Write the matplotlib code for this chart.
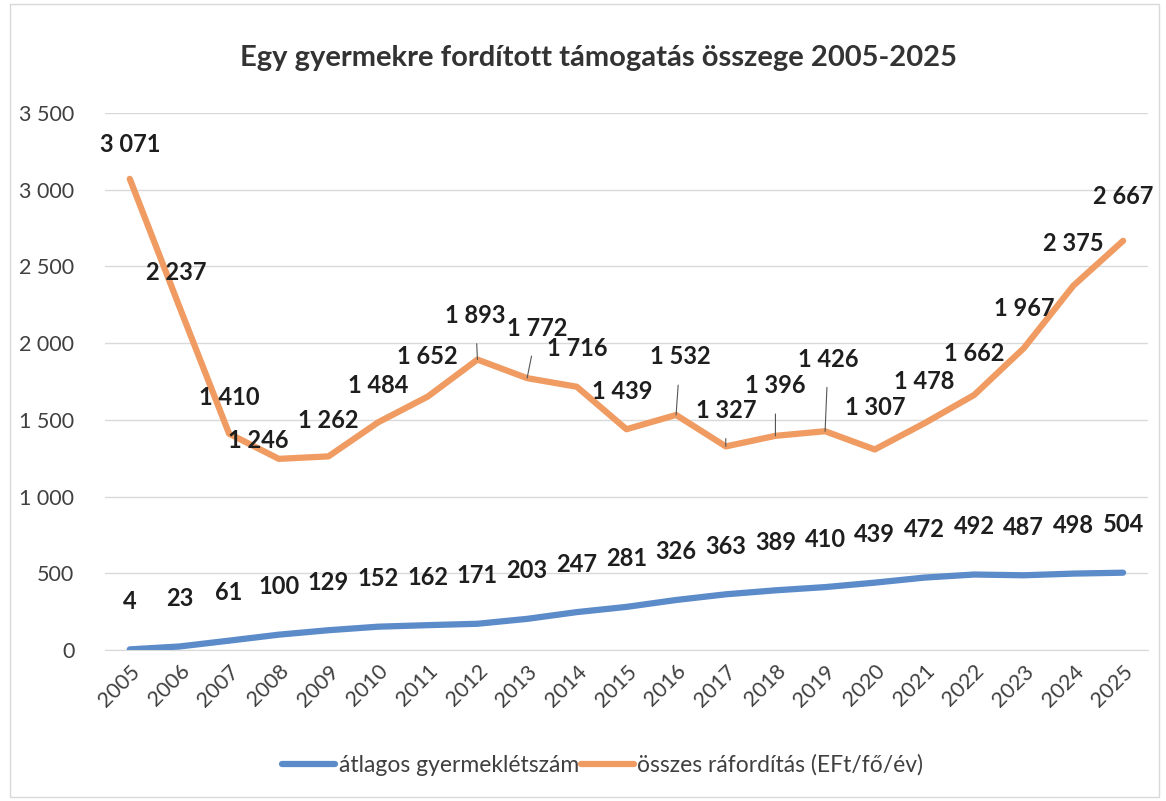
import matplotlib.pyplot as plt

plt.rcParams['font.family'] = ['Lato', 'DejaVu Sans']

# adatok
evek = [str(e) for e in range(2005, 2026)]
gyermekletszam = [4, 23, 61, 100, 129, 152, 162, 171, 203, 247, 281,
                  326, 363, 389, 410, 439, 472, 492, 487, 498, 504]
raforditas = [3071, 2237, 1410, 1246, 1262, 1484, 1652, 1893, 1772, 1716, 1439,
              1532, 1327, 1396, 1426, 1307, 1478, 1662, 1967, 2375, 2667]
y_ticks = [0, 500, 1000, 1500, 2000, 2500, 3000, 3500]

cim = 'Egy gyermekre fordított támogatás összege 2005-2025'
nev_kek = 'átlagos gyermeklétszám'
nev_narancs = 'összes ráfordítás (EFt/fő/év)'

kek = '#5b8bc8'
narancs = '#ef9b62'

# cimke eltolasok pixelben (dx, dy), es hogy van-e vezetovonal
narancs_eltolas = [(0, 34), (-3, 34), (0, 36), (-21, 18), (0, 36), (0, 37), (0, 40),
                   (-2, 44), (10, 50), (0, 38), (-4, 38), (4, 58), (0, 36), (0, 50),
                   (3, 72), (0, 42), (0, 42), (0, 42), (0, 40), (0, 42), (0, 44)]
vezetovonal = [False] * 21
for i in (7, 8, 11, 12, 13, 14):
    vezetovonal[i] = True


def fmt(v):
    return f'{v:,}'.replace(',', ' ')


fig = plt.figure(figsize=(11.66, 8.01), dpi=100)
ax = fig.add_axes([0.090, 0.1885, 0.8945, 0.6704])

x = list(range(len(evek)))
ax.plot(x, gyermekletszam, color=kek, lw=4.5, solid_capstyle='round', label=nev_kek, zorder=3)
ax.plot(x, raforditas, color=narancs, lw=4.5, solid_capstyle='round', label=nev_narancs, zorder=3)

for i, v in enumerate(gyermekletszam):
    ax.annotate(str(v), (i, v), xytext=(0, 48), textcoords='offset pixels',
                ha='center', va='center', fontsize=17, fontweight='bold', color='#1e1e1e')

for i, v in enumerate(raforditas):
    dx, dy = narancs_eltolas[i]
    if vezetovonal[i]:
        ax.annotate(fmt(v), (i, v), xytext=(dx, dy), textcoords='offset pixels',
                    ha='center', va='center', fontsize=17, fontweight='bold', color='#1e1e1e',
                    arrowprops=dict(arrowstyle='-', color='#555555', lw=0.8,
                                    shrinkA=10, shrinkB=0), zorder=4)
    else:
        ax.annotate(fmt(v), (i, v), xytext=(dx, dy), textcoords='offset pixels',
                    ha='center', va='center', fontsize=17, fontweight='bold', color='#1e1e1e',
                    zorder=4)

ax.set_xlim(-0.5, len(evek) - 0.5)
ax.set_ylim(0, 3500)
ax.set_yticks(y_ticks)
ax.set_yticklabels([fmt(t) for t in y_ticks], fontsize=15.5, color='#404040')
ax.set_xticks(x)
ax.set_xticklabels(evek, rotation=45, ha='right', rotation_mode='anchor',
                   fontsize=15.5, color='#404040')
ax.tick_params(axis='y', length=0, pad=22)
ax.tick_params(axis='x', length=0, pad=8)
ax.grid(axis='y', color='#d9d9d9', lw=1)
ax.set_axisbelow(True)
for s in ['top', 'right', 'left']:
    ax.spines[s].set_visible(False)
ax.spines['bottom'].set_color('#d9d9d9')

fig.text(0.513, 0.927, cim, ha='center', va='center', fontsize=21,
         fontweight='bold', color='#333333')

fig.legend(loc='center', bbox_to_anchor=(0.517, 0.045), ncol=2, frameon=False,
           fontsize=16.5, handlelength=2.3, handletextpad=0.15, columnspacing=0.1,
           labelcolor='#404040')

fig.patches.append(plt.Rectangle((0.009, 0.005), 0.985, 0.99, transform=fig.transFigure,
                                 fill=False, edgecolor='#d9d9d9', lw=1))

fig.savefig('out.png', dpi=100)
